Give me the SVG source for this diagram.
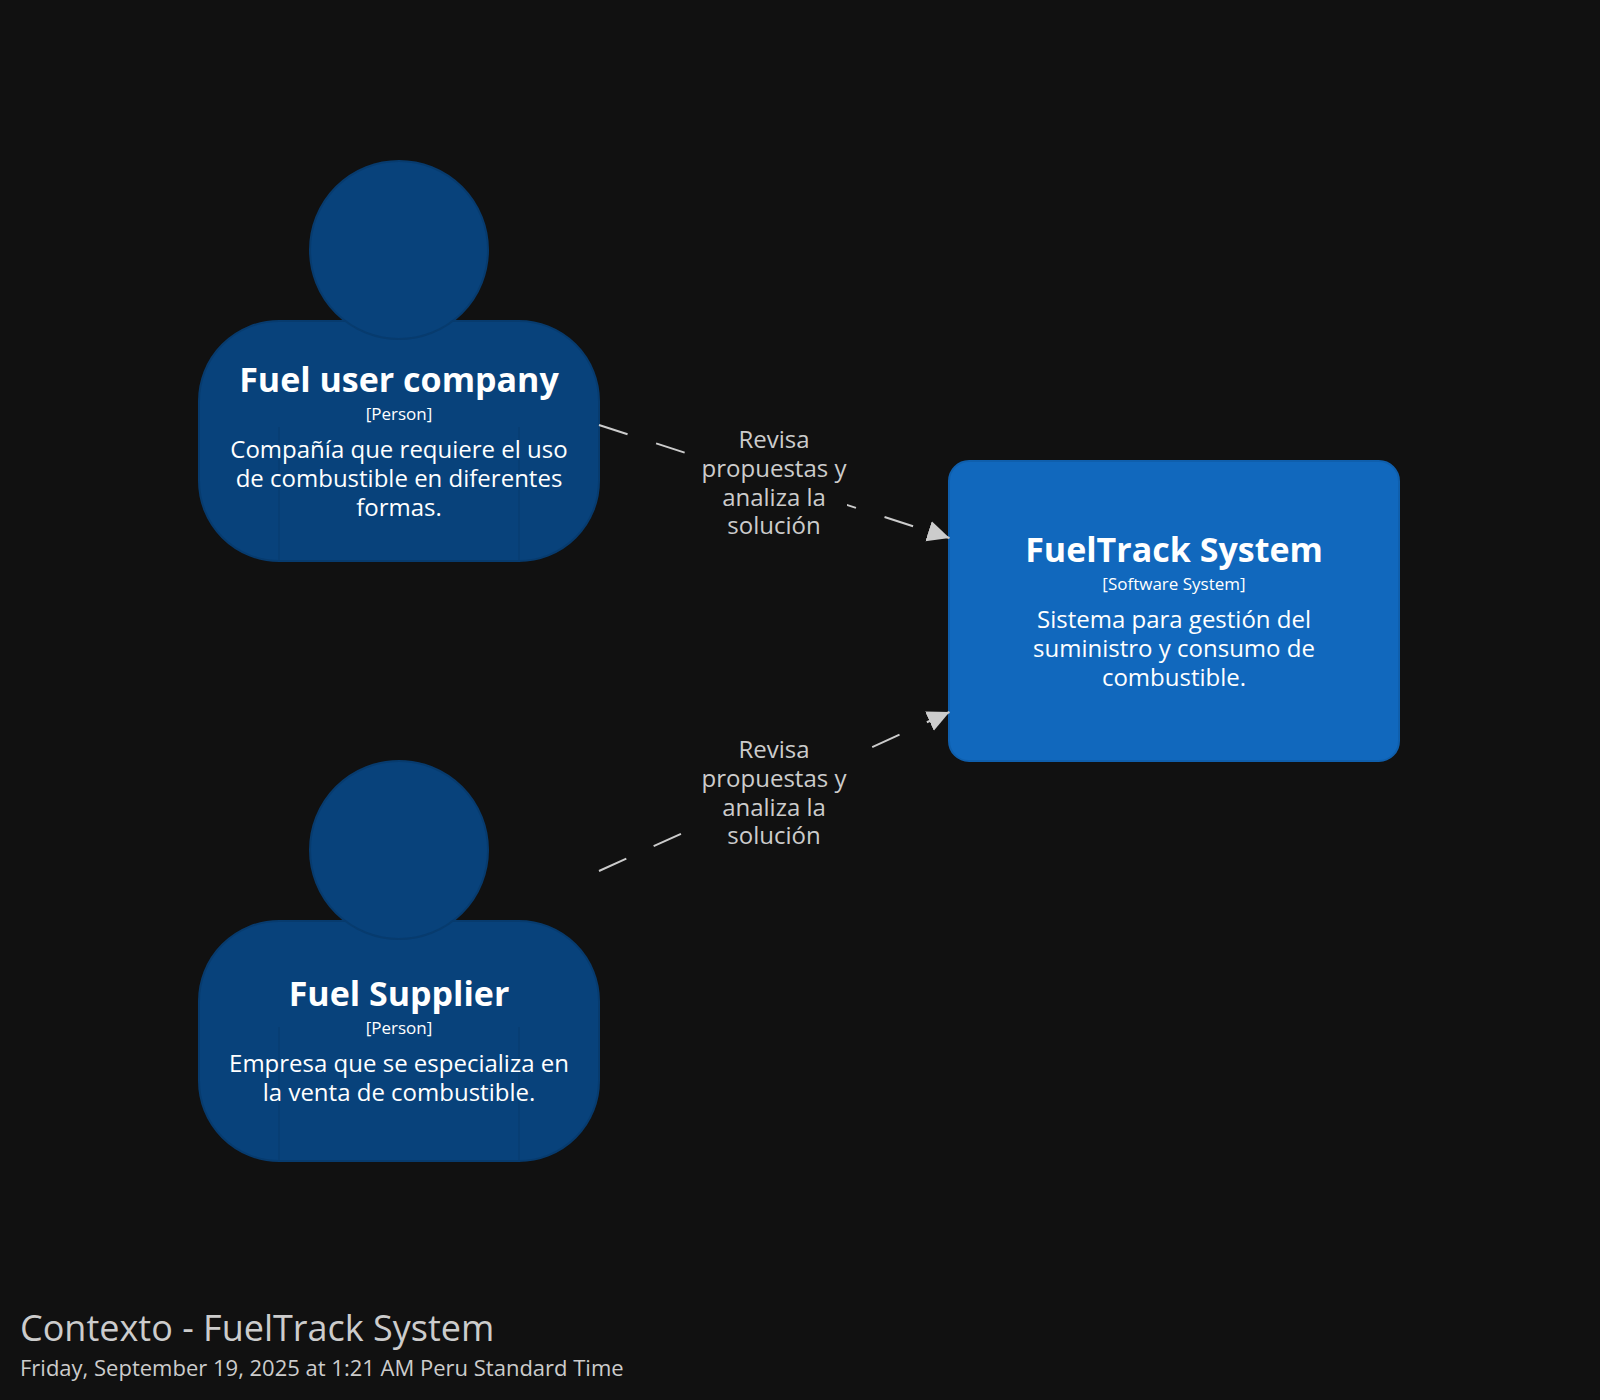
<svg xmlns="http://www.w3.org/2000/svg" width="1600" height="1400" viewBox="0 0 1600 1400">
<defs>
<marker id="arrow" markerUnits="userSpaceOnUse" markerWidth="24" markerHeight="22" refX="22" refY="11" orient="auto"><path d="M0,0.5 L22,11 L0,21.5 Z" fill="#cccccc"/></marker>
<g id="person-shape">
<rect x="199" y="321" width="400" height="240" rx="80" class="p"/>
<path d="M279 427V561M519 427V561" fill="none" stroke="#073b6e" stroke-width="1"/>
<circle cx="399" cy="250" r="89" class="p"/>
</g>
</defs>
<style>
text{font-family:"Open Sans","Noto Sans",sans-serif;text-anchor:middle}
.p{fill:#08427b;stroke:#073b6e;stroke-width:2}
.t{font-size:34px;font-weight:700;fill:#fff}
.m{font-size:17px;fill:#fff}
.d{font-size:24px;fill:#fff}
.l{font-size:24px;fill:#cccccc}
.c{fill:none;stroke:#cccccc;stroke-width:2;stroke-dasharray:30 30;marker-end:url(#arrow)}
.bg{fill:#111111}
</style>
<rect width="1600" height="1400" fill="#111111"/>
<g id="fuel-user-company">
<use href="#person-shape"/>
<text class="t" x="399" y="392">Fuel user company</text>
<text class="m" x="399" y="420">[Person]</text>
<text class="d" x="399" y="458">Compañía que requiere el uso</text>
<text class="d" x="399" y="487">de combustible en diferentes</text>
<text class="d" x="399" y="516">formas.</text>
</g>
<g id="fuel-supplier">
<use href="#person-shape" y="600"/>
<text class="t" x="399" y="1006">Fuel Supplier</text>
<text class="m" x="399" y="1034">[Person]</text>
<text class="d" x="399" y="1072">Empresa que se especializa en</text>
<text class="d" x="399" y="1101">la venta de combustible.</text>
</g>
<g id="fueltrack-system">
<rect x="949" y="461" width="450" height="300" rx="20" fill="#1168bd" stroke="#0f5fad" stroke-width="2"/>
<text class="t" x="1174" y="562">FuelTrack System</text>
<text class="m" x="1174" y="590">[Software System]</text>
<text class="d" x="1174" y="628">Sistema para gestión del</text>
<text class="d" x="1174" y="657">suministro y consumo de</text>
<text class="d" x="1174" y="686">combustible.</text>
</g>
<g id="connectors">
<path class="c" d="M599 425L949.5 538"/>
<rect class="bg" x="700" y="425" width="147" height="120"/>
<text class="l" x="774" y="448">Revisa</text>
<text class="l" x="774" y="477">propuestas y</text>
<text class="l" x="774" y="506">analiza la</text>
<text class="l" x="774" y="534">solución</text>
<path class="c" d="M599 871L949.5 712"/>
<rect class="bg" x="700" y="735" width="147" height="120"/>
<text class="l" x="774" y="758">Revisa</text>
<text class="l" x="774" y="787">propuestas y</text>
<text class="l" x="774" y="816">analiza la</text>
<text class="l" x="774" y="844">solución</text>
</g>
<g id="footer">
<text x="20" y="1341" font-size="36" fill="#cccccc" style="text-anchor:start">Contexto - FuelTrack System</text>
<text x="20" y="1376" font-size="22" fill="#cccccc" style="text-anchor:start">Friday, September 19, 2025 at 1:21 AM Peru Standard Time</text>
</g>
</svg>
